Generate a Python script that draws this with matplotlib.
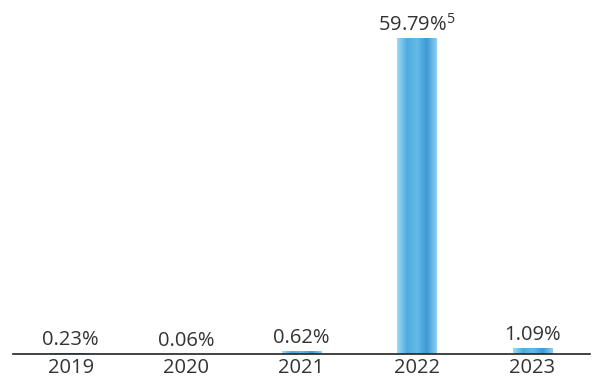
"""Variación anual con barras estilo acuarela."""

import matplotlib.pyplot as plt
import numpy as np
from matplotlib.colors import LinearSegmentedColormap

anios = ['2019', '2020', '2021', '2022', '2023']
valores = [0.23, 0.06, 0.62, 59.79, 1.09]
etiquetas = ['0.23%', '0.06%', '0.62%', '59.79%', '1.09%']
notas = ['', '', '', '5', '']

plt.rcParams['font.family'] = ['Open Sans', 'DejaVu Sans']
plt.rcParams['mathtext.fontset'] = 'custom'
plt.rcParams['mathtext.rm'] = 'Open Sans'

fig = plt.figure(figsize=(5.94, 3.79), dpi=100)
ax = fig.add_axes([13 / 594, 25 / 379, 577 / 594, 354 / 379])

x = np.arange(len(anios))
ancho = 0.34
barras = ax.bar(x, valores, width=ancho, color='#4aa6df', zorder=2)

# relleno tipo acuarela: degradado horizontal recortado a cada barra
acuarela = LinearSegmentedColormap.from_list(
    'acuarela', ['#9ad6f4', '#45a6de', '#5cb7e7', '#3393d3', '#86ccf0'])
grad = np.linspace(0, 1, 64).reshape(1, -1)
for b in barras:
    x0, y0 = b.get_x(), b.get_y()
    w, h = b.get_width(), b.get_height()
    im = ax.imshow(grad, cmap=acuarela, aspect='auto', zorder=3,
                   extent=(x0, x0 + w, y0, y0 + h), alpha=0.95)
    im.set_clip_path(b)
    b.set_facecolor('none')

for xi, v, txt, nota in zip(x, valores, etiquetas, notas):
    if nota:
        txt = txt + r'$^{\mathrm{' + nota + '}}$'
    ax.annotate(txt, (xi, v), xytext=(0, 2), textcoords='offset points',
                ha='center', va='bottom', fontsize=14.5, color='#333333')

ax.set_xlim(-0.5, len(anios) - 0.5)
ax.set_ylim(0, 67)
ax.set_xticks(x, anios)
ax.tick_params(axis='x', length=0, pad=3, labelsize=14.5, colors='#333333')
ax.set_yticks([])
for lado in ('top', 'right', 'left'):
    ax.spines[lado].set_visible(False)
ax.spines['bottom'].set_color('#222222')
ax.spines['bottom'].set_linewidth(1.2)
ax.spines['bottom'].set_zorder(4)

fig.savefig('out.png', dpi=100)
